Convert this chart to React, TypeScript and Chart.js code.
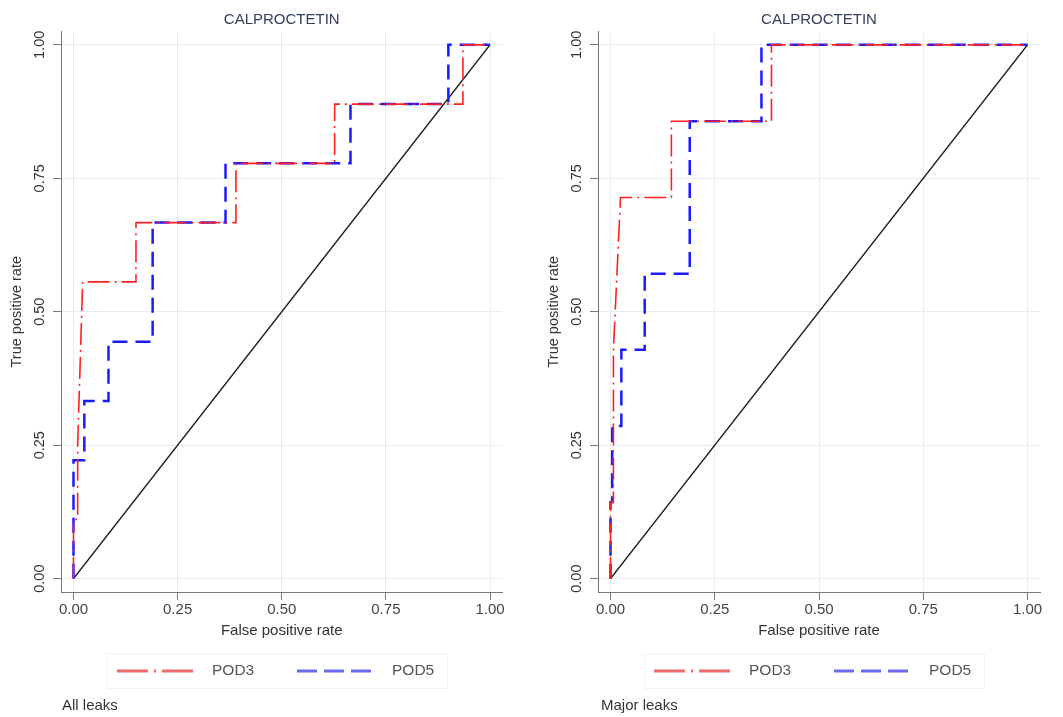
import React, { useEffect, useRef } from "react";
import { Chart, registerables } from "chart.js";
Chart.register(...registerables);

const chartTitle = "CALPROCTETIN";
const xAxisTitle = "False positive rate";
const yAxisTitle = "True positive rate";
const tickValues = [0, 0.25, 0.5, 0.75, 1];
const seriesNames = ["POD3", "POD5"];
const panelCaptions = ["All leaks", "Major leaks"];

// All leaks
const allPod3Fpr = [0, 0, 0.01, 0.01, 0.022, 0.15, 0.15, 0.39, 0.39, 0.627, 0.627, 0.935, 0.935, 1];
const allPod3Tpr = [0, 0.111, 0.111, 0.25, 0.556, 0.556, 0.667, 0.667, 0.778, 0.778, 0.889, 0.889, 1, 1];
const allPod5Fpr = [0, 0, 0.026, 0.026, 0.084, 0.084, 0.19, 0.19, 0.365, 0.365, 0.665, 0.665, 0.9, 0.9, 1];
const allPod5Tpr = [0, 0.222, 0.222, 0.333, 0.333, 0.444, 0.444, 0.667, 0.667, 0.778, 0.778, 0.889, 0.889, 1, 1];

// Major leaks
const majorPod3Fpr = [0, 0, 0.007, 0.007, 0.024, 0.146, 0.146, 0.386, 0.386, 1];
const majorPod3Tpr = [0, 0.143, 0.143, 0.429, 0.714, 0.714, 0.857, 0.857, 1, 1];
const majorPod5Fpr = [0, 0, 0.004, 0.004, 0.026, 0.026, 0.082, 0.082, 0.19, 0.19, 0.362, 0.362, 1];
const majorPod5Tpr = [0, 0.143, 0.143, 0.286, 0.286, 0.429, 0.429, 0.571, 0.571, 0.857, 0.857, 1, 1];

const diagonalFpr = [0, 1];
const diagonalTpr = [0, 1];

const FONT = "'Liberation Sans', Arial, Helvetica, sans-serif";
const RED = "#ff1f1f";
const BLUE = "#1a1aff";
const RED_DASH = [22, 5, 2, 5];
const BLUE_DASH = [15, 8];

const toPoints = (xs: number[], ys: number[]) => xs.map((x, i) => ({ x, y: ys[i] }));

type PanelProps = {
  left: number;
  width: number;
  padRight: number;
  pod3X: number[];
  pod3Y: number[];
  pod5X: number[];
  pod5Y: number[];
  caption: string;
  captionOffset: number;
};

function Panel(props: PanelProps) {
  const ref = useRef<HTMLCanvasElement | null>(null);
  useEffect(() => {
    if (!ref.current) return;
    const decor = {
      id: "decor",
      afterDraw(chart: any) {
        const ctx = chart.ctx as CanvasRenderingContext2D;
        const area = chart.chartArea;
        const ys = chart.scales.y;
        ctx.save();
        // y tick labels, rotated
        ctx.fillStyle = "#333";
        ctx.font = `14.5px ${FONT}`;
        ctx.textAlign = "center";
        ctx.textBaseline = "middle";
        for (const t of ys.ticks) {
          const py = ys.getPixelForValue(t.value);
          ctx.save();
          ctx.translate(area.left - 21, py);
          ctx.rotate(-Math.PI / 2);
          ctx.fillText(Number(t.value).toFixed(2), 0, 0);
          ctx.restore();
        }
        // legend box
        const bx = area.left + 46;
        ctx.strokeStyle = "#f3f3f3";
        ctx.lineWidth = 1;
        ctx.strokeRect(bx + 0.5, 653.5, 340, 35);
        const ly = 671;
        ctx.lineWidth = 3;
        ctx.lineCap = "butt";
        ctx.strokeStyle = "#f06a6a";
        ctx.setLineDash([31, 6, 2, 6]);
        ctx.beginPath();
        ctx.moveTo(area.left + 56, ly);
        ctx.lineTo(area.left + 134, ly);
        ctx.stroke();
        ctx.strokeStyle = "#6a6af0";
        ctx.setLineDash([20, 7]);
        ctx.beginPath();
        ctx.moveTo(area.left + 236, ly);
        ctx.lineTo(area.left + 314, ly);
        ctx.stroke();
        ctx.setLineDash([]);
        ctx.fillStyle = "#555";
        ctx.font = `15.5px ${FONT}`;
        ctx.textAlign = "left";
        ctx.fillText(seriesNames[0], area.left + 151, ly);
        ctx.fillText(seriesNames[1], area.left + 331, ly);
        // caption
        ctx.fillStyle = "#333";
        ctx.font = `15px ${FONT}`;
        ctx.fillText(props.caption, area.left + props.captionOffset, 706);
        ctx.restore();
      },
    };
    const chart = new Chart(ref.current, {
      type: "scatter",
      data: {
        datasets: [
          {
            label: seriesNames[0],
            data: toPoints(props.pod3X, props.pod3Y),
            showLine: true,
            borderColor: RED,
            backgroundColor: RED,
            borderWidth: 1.6,
            borderDash: RED_DASH,
            pointRadius: 0,
            tension: 0,
          },
          {
            label: seriesNames[1],
            data: toPoints(props.pod5X, props.pod5Y),
            showLine: true,
            borderColor: BLUE,
            backgroundColor: BLUE,
            borderWidth: 2.5,
            borderDash: BLUE_DASH,
            pointRadius: 0,
            tension: 0,
          },
          {
            label: "Reference",
            data: toPoints(diagonalFpr, diagonalTpr),
            showLine: true,
            borderColor: "#1a1a1a",
            backgroundColor: "#1a1a1a",
            borderWidth: 1.5,
            pointRadius: 0,
          },
        ],
      },
      options: {
        animation: false,
        responsive: false,
        layout: { padding: { left: 0, top: 0, right: props.padRight, bottom: 75 } },
        plugins: {
          legend: { display: false },
          tooltip: { enabled: false },
          title: {
            display: true,
            text: chartTitle,
            fullSize: false,
            color: "#34405c",
            font: { family: FONT, size: 15, weight: "normal" },
            padding: { top: 11, bottom: 2.5 },
          },
        },
        scales: {
          x: {
            type: "linear",
            min: -0.03,
            max: 1.03,
            afterBuildTicks: (s: any) => {
              s.ticks = tickValues.map((v) => ({ value: v }));
            },
            afterFit: (s: any) => {
              s.height = 50;
            },
            ticks: {
              color: "#444",
              font: { family: FONT, size: 15 },
              padding: 1,
              maxRotation: 0,
              callback: (v: any) => Number(v).toFixed(2),
            },
            grid: { color: "#e4eef0", tickColor: "#777", tickLength: 8, lineWidth: 1 },
            border: { color: "#777", width: 1 },
            title: {
              display: true,
              text: xAxisTitle,
              color: "#333",
              font: { family: FONT, size: 15 },
              padding: { top: 0, bottom: 2 },
            },
          },
          y: {
            type: "linear",
            min: -0.025,
            max: 1.025,
            afterBuildTicks: (s: any) => {
              s.ticks = tickValues.map((v) => ({ value: v }));
            },
            afterFit: (s: any) => {
              s.width = 61;
            },
            ticks: { display: false },
            grid: { color: "#e4eef0", tickColor: "#777", tickLength: 8, lineWidth: 1 },
            border: { color: "#777", width: 1 },
            title: {
              display: true,
              text: yAxisTitle,
              color: "#333",
              font: { family: FONT, size: 14.5 },
              padding: { top: 8, bottom: 0 },
            },
          },
        },
      },
      plugins: [decor],
    } as any);
    return () => chart.destroy();
  }, []);
  return (
    <canvas
      ref={ref}
      width={props.width}
      height={717}
      style={{ position: "absolute", left: props.left, top: 0, width: props.width, height: 717 }}
    />
  );
}

export default function App() {
  return (
    <div style={{ position: "absolute", left: 0, top: 0, width: 1063, height: 717, background: "#fff" }}>
      <Panel
        left={0}
        width={530}
        padRight={27.5}
        pod3X={allPod3Fpr}
        pod3Y={allPod3Tpr}
        pod5X={allPod5Fpr}
        pod5Y={allPod5Tpr}
        caption={panelCaptions[0]}
        captionOffset={1}
      />
      <Panel
        left={537}
        width={526}
        padRight={23}
        pod3X={majorPod3Fpr}
        pod3Y={majorPod3Tpr}
        pod5X={majorPod5Fpr}
        pod5Y={majorPod5Tpr}
        caption={panelCaptions[1]}
        captionOffset={3}
      />
    </div>
  );
}
